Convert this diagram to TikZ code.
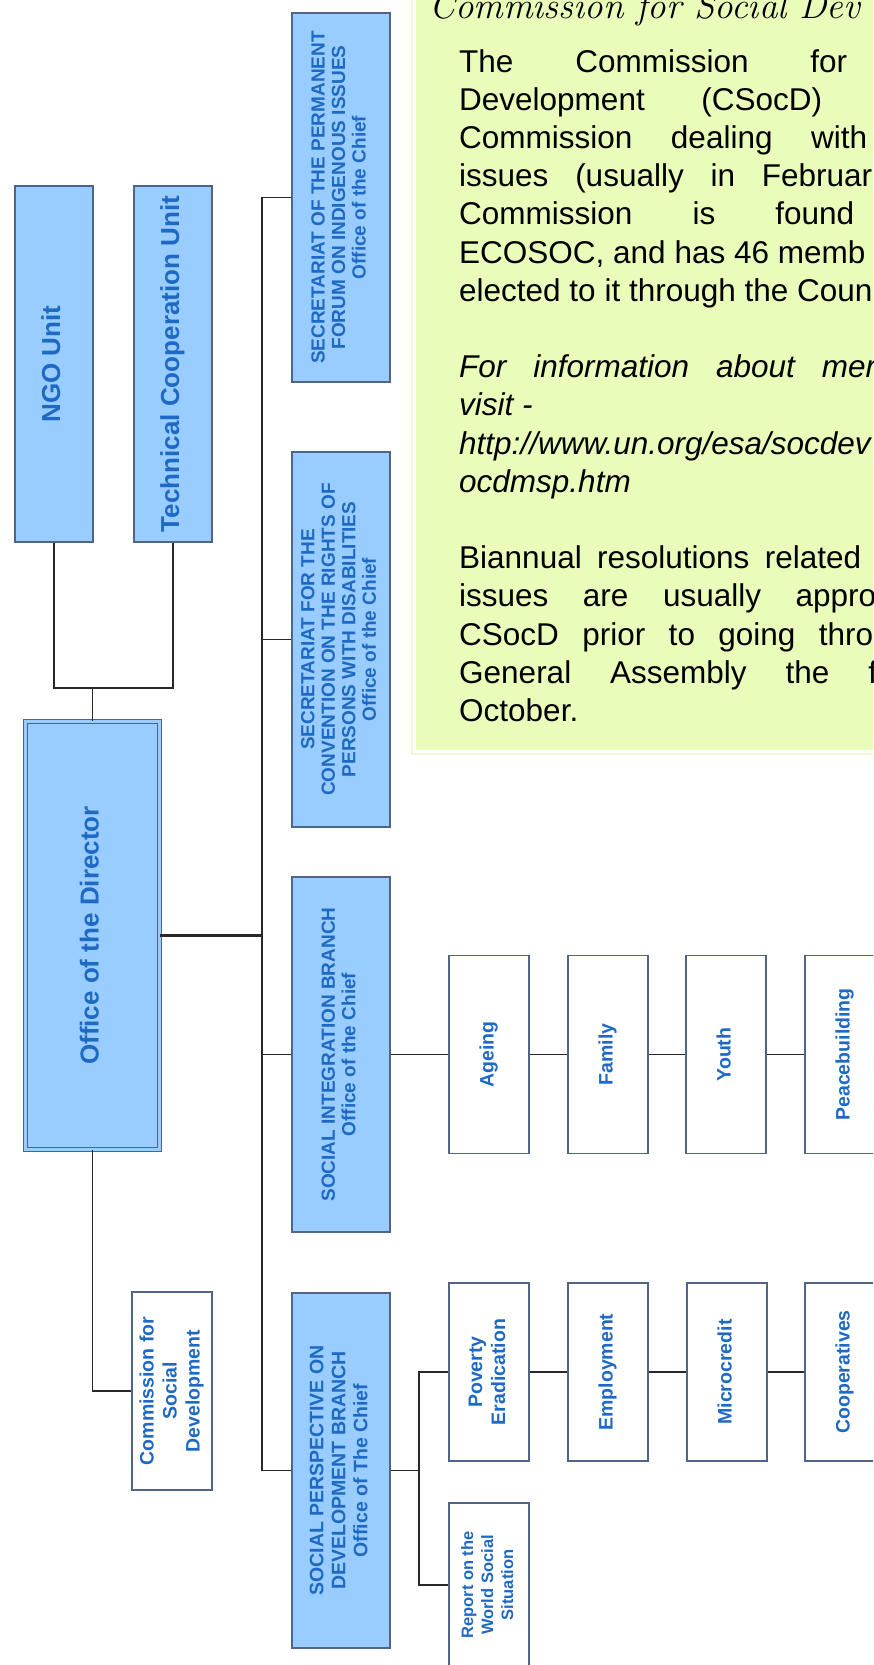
\documentclass[tikz,border=0pt]{standalone}
\usepackage{fontspec}
\newfontfamily\arial{Liberation Sans}

\definecolor{boxblue}{RGB}{153,204,255}
\definecolor{boxedge}{RGB}{80,100,135}
\definecolor{labelblue}{RGB}{30,105,195}
\definecolor{notefill}{RGB}{234,252,186}
\definecolor{noteedge}{RGB}{240,250,216}
\definecolor{wirecol}{RGB}{40,40,40}

\newcommand{\vlabel}[1]{\rotatebox{90}{\begin{tabular}{@{}c@{}}#1\end{tabular}}}

\begin{document}
\begin{tikzpicture}[
        x=1pt, y=-1pt,
        unit/.style={draw=boxedge, fill=boxblue, line width=1.2pt, text=labelblue,
            inner sep=0pt, font=\arial\bfseries\fontsize{26}{30}\selectfont},
        branch/.style={draw=boxedge, fill=boxblue, line width=1.2pt, text=labelblue,
            inner sep=0pt, minimum width=98pt, font=\arial\bfseries\fontsize{19}{20.5}\selectfont},
        topic/.style={draw=boxedge, fill=white, line width=1.2pt, text=labelblue,
            inner sep=0pt, minimum width=80pt, font=\arial\bfseries\fontsize{19.5}{23}\selectfont},
        wire/.style={draw=wirecol, line width=1.4pt},
        noteline/.style={anchor=base west, inner sep=0pt, font=\arial\fontsize{31.5}{38}\selectfont},
        noteital/.style={noteline, font=\arial\itshape\fontsize{31.5}{38}\selectfont}
    ]
        \useasboundingbox (0,0) rectangle (873,1665);
        \clip (0,0) rectangle (873,1665);

        \fill[noteedge] (411,-5) rectangle (880,755);
        \fill[white] (413,-5) rectangle (880,753);
        \fill[notefill] (416,-5) rectangle (880,750);
        \node[anchor=base west, inner sep=0pt, font=\itshape\fontsize{37}{40}\selectfont] (title) at (429,19) {Commission for Social Dev};
        \node[noteline] (n0) at (459,72)    {\makebox[388pt][s]{The Commission for}};
        \node[noteline] (n1) at (459,110.2) {\makebox[363pt][s]{Development (CSocD)}};
        \node[noteline] (n2) at (459,148.4) {\makebox[408pt][s]{Commission dealing with}};
        \node[noteline] (n3) at (459,186.6) {\makebox[413pt][s]{issues (usually in Februar}};
        \node[noteline] (n4) at (459,224.8) {\makebox[395pt][s]{Commission is found}};
        \node[noteline] (n5) at (459,263)   {ECOSOC, and has 46 memb};
        \node[noteline] (n6) at (459,301.2) {elected to it through the Coun};
        \node[noteital] (n8) at (459,377.6) {\makebox[417pt][s]{For information about mer}};
        \node[noteital] (n9) at (459,415.8) {visit -};
        \node[noteital] (n10) at (459,454)  {http://www.un.org/esa/socdev};
        \node[noteital] (n11) at (459,492.2) {ocdmsp.htm};
        \node[noteline] (n13) at (459,568.6) {\makebox[402pt][s]{Biannual resolutions related}};
        \node[noteline] (n14) at (459,606.8) {\makebox[417pt][s]{issues are usually appro}};
        \node[noteline] (n15) at (459,645)   {\makebox[414pt][s]{CSocD prior to going thro}};
        \node[noteline] (n16) at (459,683.2) {\makebox[418pt][s]{General Assembly the f}};
        \node[noteline] (n17) at (459,721.4) {October.};

        \node[unit, minimum width=78pt, minimum height=356pt] (ngo) at (54,364) {\vlabel{NGO Unit}};
        \node[unit, minimum width=78pt, minimum height=356pt] (tcu) at (173,364) {\vlabel{Technical Cooperation Unit}};
        \node[unit, double=boxblue, double distance=3pt, minimum width=134pt, minimum height=428pt] (dir) at (92.5,935.5) {\vlabel{Office of the Director}};
        \node[topic, minimum height=198pt] (csd) at (172,1391) {\vlabel{Commission for\\Social\\Development}};

        \node[branch, minimum height=369pt] (sec1) at (341,197.5) {\vlabel{SECRETARIAT OF THE PERMANENT\\FORUM ON INDIGENOUS ISSUES\\Office of the Chief}};
        \node[branch, minimum height=375pt] (sec2) at (341,639.5) {\vlabel{SECRETARIAT FOR THE\\CONVENTION ON THE RIGHTS OF\\PERSONS WITH DISABILITIES\\Office of the Chief}};
        \node[branch, minimum height=355pt] (sib) at (341,1054.5) {\vlabel{SOCIAL INTEGRATION BRANCH\\Office of the Chief}};
        \node[branch, minimum height=355pt, font=\arial\bfseries\fontsize{19.5}{22}\selectfont] (spb) at (341,1470.5) {\vlabel{SOCIAL PERSPECTIVE ON\\DEVELOPMENT BRANCH\\Office of The Chief}};

        \node[topic, minimum height=198pt] (ageing) at (489,1054.5) {\vlabel{Ageing}};
        \node[topic, minimum height=198pt] (family) at (608,1054.5) {\vlabel{Family}};
        \node[topic, minimum height=198pt] (youth)  at (726,1054.5) {\vlabel{Youth}};
        \node[topic, minimum height=198pt] (peace)  at (845,1054.5) {\vlabel{Peacebuilding}};

        \node[topic, minimum height=178pt] (pov)    at (489,1372) {\vlabel{Poverty\\Eradication}};
        \node[topic, minimum height=178pt] (employ) at (608,1372) {\vlabel{Employment}};
        \node[topic, minimum height=178pt] (micro)  at (727,1372) {\vlabel{Microcredit}};
        \node[topic, minimum height=178pt] (coop)   at (845,1372) {\vlabel{Cooperatives}};
        \node[topic, minimum height=164pt, font=\arial\bfseries\fontsize{16.5}{20}\selectfont] (wss) at (489,1585) {\vlabel{Report on the\\World Social\\Situation}};

        \coordinate (dirtop) at (92.5,688);
        \coordinate (spine) at (262,936);
        \coordinate (spjoin) at (419,1470.5);
        \draw[wire] (ngo.south) |- (dirtop) -| (tcu.south);
        \draw[wire] (dirtop) -- (dir.north);
        \draw[wire] (dir.south) |- (csd.west);
        \draw[wire, line width=2.8pt] (dir.east) -- (dir.east -| spine);
        \draw[wire] (sec1.west) -| (spine) |- (spb.west);
        \draw[wire] (sec2.west) -- (sec2.west -| spine);
        \draw[wire] (sib.west) -- (sib.west -| spine);
        \draw[wire] (sib) -- (ageing) -- (family) -- (youth) -- (peace);
        \draw[wire] (pov) -- (employ) -- (micro) -- (coop);
        \draw[wire] (spb.east) -- (spjoin);
        \draw[wire] (pov.west) -| (spjoin) |- (wss.west);
    \end{tikzpicture}
\end{document}
